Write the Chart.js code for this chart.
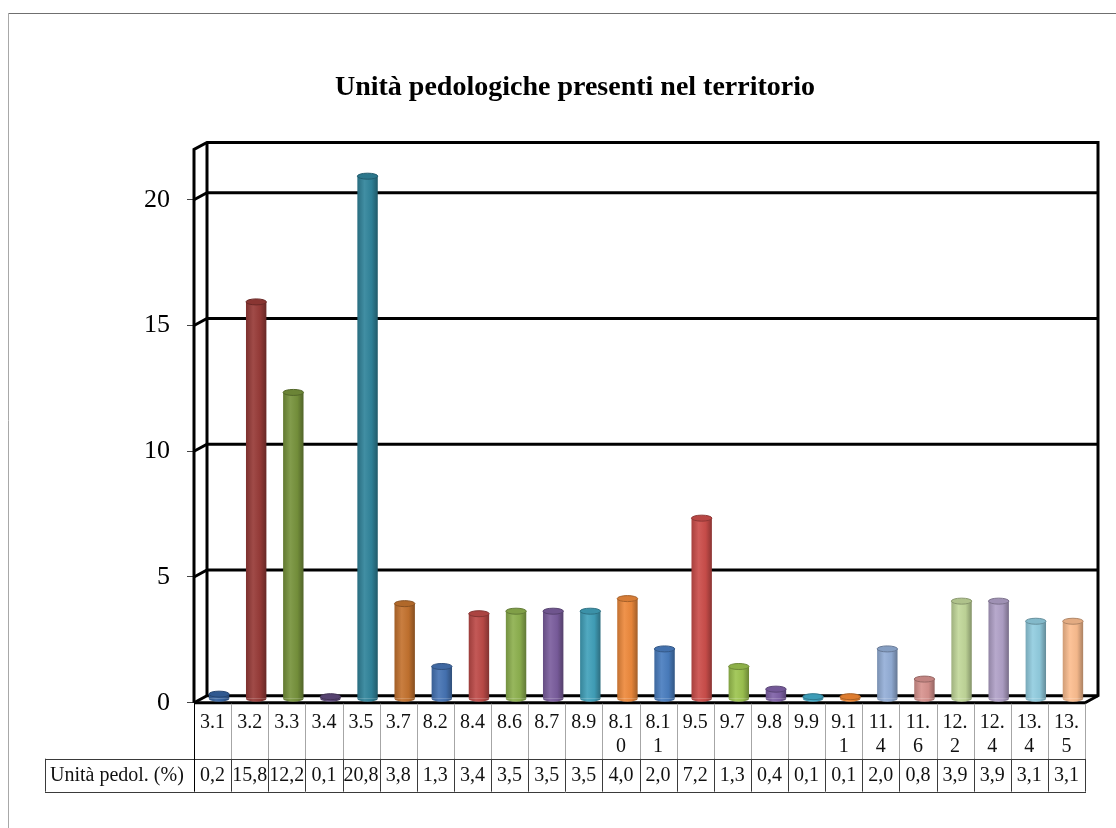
<!DOCTYPE html>
<html>
<head>
<meta charset="utf-8">
<script src="https://cdn.jsdelivr.net/npm/chart.js@4.4.1/dist/chart.umd.min.js"></script>
<style>
  html, body { margin: 0; padding: 0; background: #fff; }
  canvas { display: block; }
</style>
</head>
<body>
<canvas id="chart" width="1116" height="828"></canvas>
<script>
'use strict';

// data
const chartTitle = 'Unità pedologiche presenti nel territorio';
const seriesName = 'Unità pedol. (%)';
const categories = ['3.1', '3.2', '3.3', '3.4', '3.5', '3.7', '8.2', '8.4', '8.6', '8.7', '8.9', '8.10',
  '8.11', '9.5', '9.7', '9.8', '9.9', '9.11', '11.4', '11.6', '12.2', '12.4', '13.4', '13.5'];
const values = [0.2, 15.8, 12.2, 0.1, 20.8, 3.8, 1.3, 3.4, 3.5, 3.5, 3.5, 4.0,
  2.0, 7.2, 1.3, 0.4, 0.1, 0.1, 2.0, 0.8, 3.9, 3.9, 3.1, 3.1];
const yTicks = [0, 5, 10, 15, 20];
const yMax = 22;

// one colour per cylinder (office palette, as in the original)
const barColors = ['#3563a0', '#983b38', '#77933c', '#5f4a7c', '#31849b', '#c4732f',
  '#4674b4', '#be4b48', '#8eb14f', '#7b5e9e', '#42a1bb', '#ee8a3c',
  '#4a7ec0', '#cc4e4b', '#9dc450', '#8062a8', '#44adcb', '#f58a34',
  '#94afd8', '#d8938f', '#c2d89a', '#b1a1c8', '#92cde0', '#fcbe90'];

const SERIF = "'Liberation Serif', 'DejaVu Serif', serif";
const DX = 13, DY = -7;      // depth of the 3d box
const BAR_PCT = 0.55;

function shade(hex, f) {
  const n = parseInt(hex.slice(1), 16);
  const c = [(n >> 16) & 255, (n >> 8) & 255, n & 255].map(v => {
    const r = f <= 1 ? v * f : v + (255 - v) * (f - 1);
    return Math.max(0, Math.min(255, Math.round(r)));
  });
  return 'rgb(' + c.join(',') + ')';
}

function cylinderGradient(ctx, cx, w, col) {
  if (!isFinite(cx) || !isFinite(w) || w <= 0) return col;
  const g = ctx.createLinearGradient(cx - w / 2, 0, cx + w / 2, 0);
  g.addColorStop(0, shade(col, 0.82));
  g.addColorStop(0.35, shade(col, 1.08));
  g.addColorStop(0.7, shade(col, 0.96));
  g.addColorStop(1, shade(col, 0.68));
  return g;
}

function barWidth(chart) {
  const xs = chart.scales.x;
  return xs.width / categories.length * BAR_PCT;
}

// back wall, floor, left wall
const boxPlugin = {
  id: 'box3d',
  beforeDraw(chart) {
    const ctx = chart.ctx;
    ctx.save();
    ctx.fillStyle = '#fff';
    ctx.fillRect(0, 0, chart.width, chart.height);
    // outer frame (top + left only visible)
    ctx.lineWidth = 1;
    ctx.strokeStyle = '#6f6f6f';
    ctx.beginPath(); ctx.moveTo(8, 13.5); ctx.lineTo(chart.width, 13.5); ctx.stroke();
    ctx.strokeStyle = '#a8a8a8';
    ctx.beginPath(); ctx.moveTo(8.5, 13); ctx.lineTo(8.5, chart.height); ctx.stroke();
    // title
    ctx.fillStyle = '#000';
    ctx.font = 'bold 28px ' + SERIF;
    ctx.textAlign = 'center';
    ctx.textBaseline = 'alphabetic';
    ctx.fillText(chartTitle, 575, 95);
    ctx.restore();
  },
  beforeDatasetsDraw(chart) {
    const {ctx, chartArea: a, scales: {y}} = chart;
    ctx.save();
    ctx.strokeStyle = '#000';
    ctx.lineWidth = 3;
    ctx.lineJoin = 'miter';
    y.ticks.forEach(t => {
      const py = y.getPixelForValue(t.value);
      ctx.beginPath();
      ctx.moveTo(a.left, py);
      ctx.lineTo(a.left + DX, py + DY);
      ctx.lineTo(a.right + DX, py + DY);
      ctx.stroke();
    });
    ctx.beginPath();
    ctx.moveTo(a.left, a.bottom);
    ctx.lineTo(a.left, a.top);
    ctx.lineTo(a.left + DX, a.top + DY);
    ctx.lineTo(a.right + DX, a.top + DY);
    ctx.lineTo(a.right + DX, a.bottom + DY);
    ctx.lineTo(a.right, a.bottom);
    ctx.lineTo(a.left, a.bottom);
    ctx.stroke();
    ctx.beginPath();
    ctx.moveTo(a.left + DX, a.top + DY);
    ctx.lineTo(a.left + DX, a.bottom + DY);
    ctx.stroke();
    ctx.restore();
    // bars sit halfway into the box
    ctx.save();
    ctx.translate(DX / 2, DY / 2);
  },
  afterDatasetsDraw(chart) {
    const ctx = chart.ctx;
    const meta = chart.getDatasetMeta(0);
    meta.data.forEach((bar, i) => {
      const p = bar.getProps(['x', 'y', 'base', 'width'], true);
      const col = barColors[i];
      const rx = p.width / 2, ry = 3;
      ctx.fillStyle = cylinderGradient(ctx, p.x, p.width, col);
      ctx.beginPath();
      ctx.ellipse(p.x, p.base, rx, ry, 0, 0, Math.PI);
      ctx.fill();
      ctx.beginPath();
      ctx.ellipse(p.x, p.y, rx, ry, 0, 0, Math.PI * 2);
      ctx.fillStyle = shade(col, 0.9);
      ctx.fill();
      ctx.lineWidth = 1;
      ctx.strokeStyle = shade(col, 0.7);
      ctx.stroke();
    });
    ctx.restore();
  }
};

// data table under the plot
const tablePlugin = {
  id: 'dataTable',
  afterDraw(chart) {
    const {ctx, chartArea: a, scales: {x}} = chart;
    const n = categories.length;
    const colW = (a.right - a.left) / n;
    const top = a.bottom, mid = a.bottom + 56, bottom = a.bottom + 89;
    const labelLeft = 45;
    ctx.save();
    ctx.lineWidth = 1;
    // category row borders
    ctx.strokeStyle = '#a6a6a6';
    for (let k = 1; k <= n; k++) {
      const px = Math.round(a.left + k * colW) + 0.5;
      ctx.beginPath(); ctx.moveTo(px, top + 1); ctx.lineTo(px, mid); ctx.stroke();
    }
    // value row borders
    ctx.strokeStyle = '#3a3a3a';
    ctx.beginPath();
    ctx.moveTo(labelLeft, Math.round(mid) + 0.5); ctx.lineTo(a.right + 1, Math.round(mid) + 0.5);
    ctx.moveTo(labelLeft, Math.round(bottom) + 0.5); ctx.lineTo(a.right + 1, Math.round(bottom) + 0.5);
    ctx.moveTo(labelLeft + 0.5, mid); ctx.lineTo(labelLeft + 0.5, bottom);
    ctx.stroke();
    for (let k = 1; k <= n; k++) {
      const px = Math.round(a.left + k * colW) + 0.5;
      ctx.beginPath(); ctx.moveTo(px, mid); ctx.lineTo(px, bottom); ctx.stroke();
    }
    ctx.strokeStyle = '#000';
    ctx.beginPath(); ctx.moveTo(Math.round(a.left) + 0.5, top); ctx.lineTo(Math.round(a.left) + 0.5, bottom); ctx.stroke();

    ctx.fillStyle = '#111';
    ctx.font = '20px ' + SERIF;
    ctx.textBaseline = 'middle';
    ctx.textAlign = 'left';
    ctx.fillText(seriesName, 50, (mid + bottom) / 2 + 1);
    ctx.textAlign = 'center';
    categories.forEach((c, i) => {
      const cx = x.getPixelForValue(i);
      // wrap like excel does in narrow cells
      const lines = [];
      let cur = '';
      for (const ch of c) {
        if (cur && ctx.measureText(cur + ch).width > colW - 5) { lines.push(cur); cur = ch; }
        else cur += ch;
      }
      lines.push(cur);
      lines.forEach((ln, j) => ctx.fillText(ln, cx, top + 20 + j * 24));
      ctx.fillText(values[i].toFixed(1).replace('.', ','), cx, (mid + bottom) / 2 + 1);
    });
    ctx.restore();
  }
};

Chart.defaults.font.family = SERIF;

const ctx = document.getElementById('chart').getContext('2d');
const chart = new Chart(ctx, {
  type: 'bar',
  data: {
    labels: categories,
    datasets: [{
      label: seriesName,
      data: values,
      categoryPercentage: 1,
      barPercentage: BAR_PCT,
      borderWidth: 0,
      backgroundColor(c) {
        const xs = c.chart.scales.x;
        if (!xs || c.dataIndex === undefined) return barColors[0];
        return cylinderGradient(c.chart.ctx, xs.getPixelForValue(c.dataIndex), barWidth(c.chart), barColors[c.dataIndex]);
      }
    }]
  },
  options: {
    responsive: false,
    animation: false,
    devicePixelRatio: 1,
    layout: { padding: { top: 149.5, bottom: 125.3, left: 0, right: 31 } },
    plugins: {
      legend: { display: false },
      title: { display: false },
      tooltip: { enabled: false }
    },
    scales: {
      x: { display: false, offset: true },
      y: {
        min: 0,
        max: yMax,
        afterFit(scale) { scale.width = 194; },
        afterBuildTicks(scale) { scale.ticks = yTicks.map(v => ({ value: v })); },
        ticks: { font: { size: 26 }, color: '#000', padding: 17 },
        grid: { drawOnChartArea: false, drawTicks: true, tickLength: 7, color: '#444', lineWidth: 1 },
        border: { display: false }
      }
    }
  },
  plugins: [boxPlugin, tablePlugin]
});
</script>
</body>
</html>
